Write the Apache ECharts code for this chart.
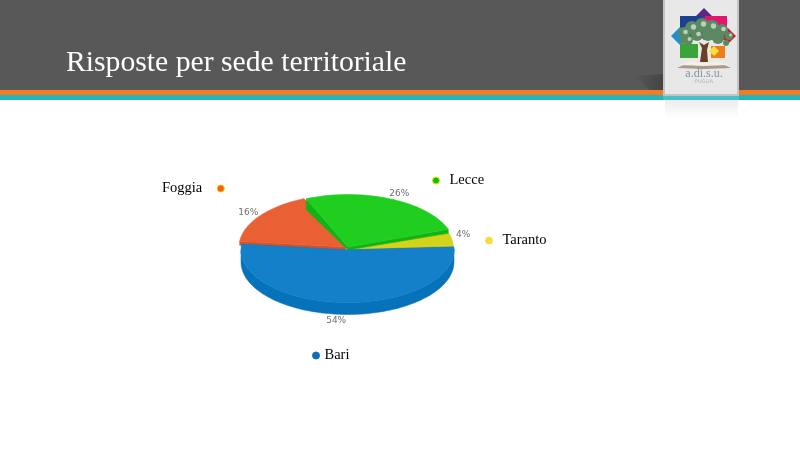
<!DOCTYPE html>
<html><head><meta charset="utf-8">
<style>html,body{margin:0;padding:0;background:#fff}#c{width:800px;height:450px}</style>
<script src="https://cdn.jsdelivr.net/npm/echarts@6/dist/echarts.min.js"></script>
</head><body><div id="c"></div>
<script>
const categories = ['Taranto', 'Lecce', 'Foggia', 'Bari'];
const percents = [4, 26, 16, 54];
const topColors = ['#d3d31c', '#20ce20', '#e96034', '#1380c9'];
const sideColors = ['#c4c014', '#14b314', '#db5126', '#0672b9'];
const legendDots = ['#f5dc3c', '#10c010', '#f0601e', '#0d6fb8'];
const legendRings = ['#f7e04a', '#e8e800', '#f5c400', '#0d6fb8'];

const view = {
  rx: 106.5, ry: 52.5, depth: 12, cutMin: 4, startAngle: 4,
  centers: {Taranto:[347,248.5], Lecce:[348,247], Foggia:[345.5,247], Bari:[347.5,250]},
  labelNudge: {Taranto:[4,-2], Lecce:[11,1], Foggia:[-7,2], Bari:[-9,0]},
  legends: {
    Foggia:{left:162, top:181, align:'right', pad:[0,10,0,0]},
    Lecce:{left:432, top:173, align:'left', pad:[0,0,0,5]},
    Taranto:{left:485, top:233, align:'left', pad:[0,0,0,5]},
    Bari:{left:312, top:348, align:'left', pad:[0,0,0,0]}
  }
};
const SERIF = '"Liberation Serif", "DejaVu Serif", serif';
const rad = d => d * Math.PI / 180;
// small perspective correction of the drawn angle
const warp = t => t + 2 + 3.5 * Math.cos(rad(t - 170)) + 4 * Math.sin(rad(2 * t));

function sliceAngles(i) {
  const total = percents.reduce((a, b) => a + b, 0);
  let a = view.startAngle;
  for (let k = 0; k < i; k++) a += percents[k] / total * 360;
  return [a, a + percents[i] / total * 360];
}
function renderSlice(i) {
  return function () {
    const name = categories[i];
    const [cx, cy] = view.centers[name];
    const [a0, a1] = sliceAngles(i);
    const pt = (t, dz) => [cx + view.rx * Math.cos(rad(warp(t))), cy - view.ry * Math.sin(rad(warp(t))) + (dz || 0)];
    const steps = Math.max(6, Math.ceil((a1 - a0) / 2));
    const arc = [], ts = [];
    for (let s = 0; s <= steps; s++) { const t = a0 + (a1 - a0) * s / steps; ts.push(t); arc.push(pt(t)); }
    const side = sideColors[i];
    const d = view.depth;
    const children = [];
    const poly = (points, fill) => children.push({type:'polygon', shape:{points}, style:{fill, stroke:fill, lineWidth:0.5}});
    const cut = t => {
      const h = Math.max(view.cutMin, d * Math.abs(Math.sin(rad(warp(t)))));
      poly([[cx,cy],[cx,cy+3],pt(t,h),pt(t)], side);
    };
    cut(a0); cut(a1);
    // outer wall, front half only
    let run = [];
    const flush = () => {
      if (run.length > 1) poly(run.map(t => pt(t)).concat(run.slice().reverse().map(t => pt(t, d))), side);
      run = [];
    };
    ts.forEach(t => { if (Math.sin(rad(warp(t))) <= 0.02) run.push(t); else flush(); });
    flush();
    poly([[cx,cy]].concat(arc), topColors[i]);
    // percent label
    const mid = warp((a0 + a1) / 2);
    const below = Math.sin(rad(mid)) < 0;
    const n = view.labelNudge[name];
    children.push({type:'text', style:{
      x: cx + (view.rx + 8) * Math.cos(rad(mid)) + n[0],
      y: cy - (view.ry + 6) * Math.sin(rad(mid)) + (below ? d : 0) + n[1],
      text: percents[i] + '%', fill:'#6e6e6e', font:'9px "DejaVu Sans", sans-serif', align:'center', verticalAlign:'middle'
    }});
    return {type:'group', children};
  };
}
const drawOrder = ['Foggia', 'Taranto', 'Lecce', 'Bari'];
const series = drawOrder.map(name => {
  const i = categories.indexOf(name);
  return {type:'custom', name, coordinateSystem:'none', silent:true, animation:false,
    itemStyle:{color:legendDots[i]}, data:[[percents[i]]], renderItem:renderSlice(i)};
});
const legend = categories.map((name, i) => {
  const l = view.legends[name];
  return {data:[{name, icon:'circle', itemStyle:{color:legendDots[i], borderColor:legendRings[i], borderWidth:1}}],
    left:l.left, top:l.top, align:l.align, padding:0, itemWidth:7, itemHeight:7, selectedMode:false,
    textStyle:{color:'#000', fontFamily:SERIF, fontSize:14.5, padding:l.pad}};
});

const R = (x,y,w,h,fill,extra) => Object.assign({type:'rect', shape:{x,y,width:w,height:h}, style:{fill}}, extra||{});
const diamond = (x,y,s,fill) => ({type:'polygon', shape:{points:[[x,y-s],[x+s,y],[x,y+s],[x-s,y]]}, style:{fill}});
const leafDots = [[684,33,6],[692,28,7],[702,25,7],[712,27,7],[722,30,6],[729,36,4],[688,40,5],[697,35,6],[708,35,6],[718,38,6],[726,43,3],[683,41,3]];
const graphic = [
  R(0,0,800,90,'#585858'),
  R(0,90,800,5,'#f47b20'),
  R(0,95,800,5,'#1fb6bf'),
  {type:'polygon', shape:{points:[[663,74],[634,76],[650,90],[663,90]]},
    style:{fill:{type:'linear',x:1,y:0,x2:0,y2:0,colorStops:[{offset:0,color:'#444'},{offset:1,color:'#585858'}]}}},
  R(665,100,73,18,{type:'linear',x:0,y:0,x2:0,y2:1,colorStops:[{offset:0,color:'#ececec'},{offset:1,color:'#ffffff'}]}),
  R(663,95,76,5,'#49c0c6'),
  R(663,0,76,96,'#c4c4c4'),
  R(665,0,72,94,'#e8e8e8'),
  diamond(704,24,16,'#5b2a86'),
  R(680,16,22,22,'#1c3f8f'),
  R(705,16,22,24,'#e0166f'),
  diamond(680,36,9,'#1f8fd0'),
  diamond(728,36,8,'#d02030'),
  R(680,44,18,14,'#3aa33a'),
  R(711,46,14,12,'#ef7d1a'),
  diamond(714,51,5,'#f4e03a'),
  ...leafDots.map(d => ({type:'circle', shape:{cx:d[0],cy:d[1],r:d[2]}, style:{fill:'#5b8a62'}})),
  ...leafDots.slice(0,8).map(d => ({type:'circle', shape:{cx:d[0]+1.5,cy:d[1]-1,r:d[2]/2.6}, style:{fill:'#b9d0bc'}})),
  {type:'polygon', shape:{points:[[700,62],[702,48],[699,42],[704,45],[709,42],[707,50],[708,62]]}, style:{fill:'#6b3f22'}},
  {type:'polygon', shape:{points:[[677,68],[690,62],[704,65],[718,62],[731,68],[704,69]]}, style:{fill:'#a89a8c'}},
  {type:'polygon', shape:{points:[[680,65],[690,61],[704,63],[718,61],[728,65],[704,66]]}, style:{fill:'#f4efe6'}},
  {type:'text', style:{x:704,y:74,text:'a.di.s.u.',fill:'#8593a3',font:'12px "Liberation Serif", serif',align:'center',verticalAlign:'middle'}},
  {type:'text', style:{x:704,y:82,text:'PUGLIA',fill:'#a8b2bd',font:'5px "DejaVu Sans", sans-serif',align:'center',verticalAlign:'middle'}}
];
const chart = echarts.init(document.getElementById('c'), null, {renderer:'canvas'});
chart.setOption({
  animation:false,
  backgroundColor:'#fff',
  title:{text:'Risposte per sede territoriale', left:66, top:48, padding:0,
    textStyle:{color:'#fff', fontFamily:SERIF, fontSize:29.7, fontWeight:'normal'}},
  legend, series, graphic
});
</script></body></html>
